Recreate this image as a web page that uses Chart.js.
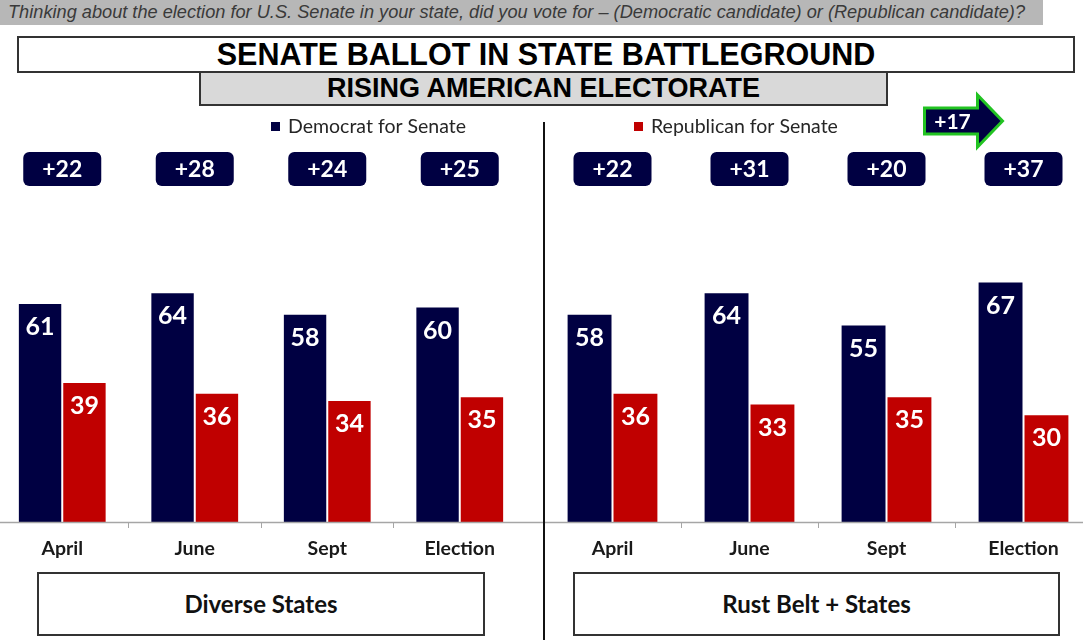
<!DOCTYPE html>
<html>
<head>
<meta charset="utf-8">
<script src="https://cdn.jsdelivr.net/npm/chart.js@4.4.0/dist/chart.umd.min.js"></script>
<style>
  html, body { margin: 0; padding: 0; background: #fff; }
  main { position: relative; width: 1083px; height: 640px; overflow: hidden; font-family: Lato, sans-serif; }
  .abs { position: absolute; box-sizing: border-box; }
  .question { left: 0; top: 0; width: 1043px; height: 25px; background: #b7b7b7; color: #3a3a3a;
    font: italic 18.2px "Liberation Sans", Arial, sans-serif; line-height: 25px; padding-left: 8px; white-space: nowrap; }
  .title { left: 17px; top: 36px; width: 1058px; height: 37px; border: 2px solid #333; background: #fff;
    font: bold 30.5px "Liberation Sans", Arial, sans-serif; text-align: center; line-height: 33px; color: #000; }
  .subtitle { left: 199px; top: 71px; width: 689px; height: 35px; border: 2px solid #333; background: #d9d9d9;
    font: bold 27px "Liberation Sans", Arial, sans-serif; text-align: center; line-height: 31px; color: #000; }
  .divider { left: 543px; top: 122px; width: 2px; height: 518px; background: #111; }
  .group { top: 572px; height: 64px; border: 2px solid #333; background: #fff; text-align: center;
    font: bold 24px Lato, sans-serif; line-height: 60px; color: #111; }
  .panel { top: 0; width: 548px; height: 640px; }
</style>
</head>
<body>
<main></main>
<script>
(function () {
  const categories = ['April', 'June', 'Sept', 'Election'];
  const groups = ['Diverse States', 'Rust Belt + States'];
  const seriesNames = ['Democrat for Senate', 'Republican for Senate'];
  const colors = ['#000042', '#c00000'];
  const demDiverse = [61, 64, 58, 60];
  const repDiverse = [39, 36, 34, 35];
  const demRust = [58, 64, 55, 67];
  const repRust = [36, 33, 35, 30];

  const question = 'Thinking about the election for U.S. Senate in your state, did you vote for \u2013 (Democratic candidate) or (Republican candidate)?';

  // labels in bars, margin badges, one legend item per panel, the change arrow
  const marks = {
    id: 'marks',
    afterDraw(chart, args, opts) {
      const { ctx, chartArea, scales: { x } } = chart;
      const dem = chart.data.datasets[0].data;
      const rep = chart.data.datasets[1].data;
      ctx.save();

      // axis line across the whole panel
      ctx.strokeStyle = '#a6a6a6';
      ctx.lineWidth = 1.5;
      ctx.beginPath();
      ctx.moveTo(0, chartArea.bottom + 0.5); ctx.lineTo(chart.width, chartArea.bottom + 0.5);
      ctx.stroke();

      ctx.textAlign = 'center';
      ctx.textBaseline = 'middle';
      chart.data.datasets.forEach((ds, di) => {
        chart.getDatasetMeta(di).data.forEach((bar, i) => {
          ctx.fillStyle = '#fff';
          ctx.font = 'bold 25px Lato';
          ctx.fillText(ds.data[i], bar.x, bar.y + 24);
        });
      });

      const margins = dem.map((v, i) => v - rep[i]);
      margins.forEach((m, i) => {
        const cx = x.getPixelForValue(i);
        ctx.fillStyle = colors[0];
        ctx.beginPath();
        ctx.roundRect(cx - 39, 152, 78, 34, 6);
        ctx.fill();
        ctx.fillStyle = '#fff';
        ctx.font = 'bold 23px Lato';
        ctx.fillText('+' + m, cx, 170);
      });

      // legend item
      const li = opts.legendIndex;
      const lx = chartArea.left + opts.legendX;
      ctx.fillStyle = colors[li];
      ctx.fillRect(lx, 122, 9, 9);
      ctx.fillStyle = '#262626';
      ctx.font = '19.5px Lato';
      ctx.textAlign = 'left';
      ctx.fillText(chart.data.datasets[li].label, lx + 17, 127);

      if (opts.arrow) {
        const n = margins.length;
        const change = margins[n - 1] - margins[n - 2];
        const cx = x.getPixelForValue(n - 1);
        const l = cx - 99, m = cx - 46, r = cx - 21;
        ctx.beginPath();
        ctx.moveTo(l, 108); ctx.lineTo(m, 108); ctx.lineTo(m, 95);
        ctx.lineTo(r, 121); ctx.lineTo(m, 147); ctx.lineTo(m, 134);
        ctx.lineTo(l, 134); ctx.closePath();
        ctx.fillStyle = colors[0];
        ctx.fill();
        ctx.strokeStyle = '#22c322';
        ctx.lineWidth = 3;
        ctx.stroke();
        ctx.fillStyle = '#fff';
        ctx.font = 'bold 21px Lato';
        ctx.textAlign = 'center';
        ctx.fillText('+' + change, l + 28, 122);
      }
      ctx.restore();
    }
  };

  function makeChart(canvas, dem, rep, padRight, legendIndex, legendX, arrow) {
    return new Chart(canvas, {
      type: 'bar',
      data: {
        labels: categories,
        datasets: [
          { label: seriesNames[0], data: dem, backgroundColor: colors[0] },
          { label: seriesNames[1], data: rep, backgroundColor: colors[1] }
        ].map(d => Object.assign(d, { borderColor: '#ffffff', borderWidth: 1, categoryPercentage: 0.67, barPercentage: 1 }))
      },
      options: {
        responsive: true,
        maintainAspectRatio: false,
        animation: false,
        layout: { padding: { top: 163, right: padRight, left: 0, bottom: 0 } },
        plugins: {
          legend: { display: false },
          tooltip: { enabled: false },
          marks: { legendIndex, legendX, arrow }
        },
        scales: {
          x: {
            border: { display: false },
            grid: {
              drawOnChartArea: false,
              tickLength: 6,
              color: c => (c.index > 0 ? '#a6a6a6' : 'rgba(0,0,0,0)')
            },
            ticks: { color: '#1a1a1a', padding: 9, font: { family: 'Lato', weight: 'bold', size: 19.5 } },
            afterFit: s => { s.height = 118; }
          },
          y: { display: false, min: 0, max: 100 }
        }
      },
      plugins: [marks]
    });
  }

  function init() {
    const main = document.querySelector('main');
    main.innerHTML =
      '<div class="abs question"></div>' +
      '<div class="abs title">SENATE BALLOT IN STATE BATTLEGROUND</div>' +
      '<div class="abs subtitle">RISING AMERICAN ELECTORATE</div>' +
      '<div class="abs panel" style="left:-4px"><canvas id="left"></canvas></div>' +
      '<div class="abs panel" style="left:544px"><canvas id="right"></canvas></div>' +
      '<div class="abs divider"></div>' +
      '<div class="abs group" style="left:37px;width:448px">' + groups[0] + '</div>' +
      '<div class="abs group" style="left:573px;width:487px">' + groups[1] + '</div>';
    main.querySelector('.question').textContent = question;

    makeChart(document.getElementById('left'), demDiverse, repDiverse, 18, 0, 275, false);
    makeChart(document.getElementById('right'), demRust, repRust, 0, 1, 90, true);
  }

  window.addEventListener('DOMContentLoaded', init);
})();
</script>
</body>
</html>
